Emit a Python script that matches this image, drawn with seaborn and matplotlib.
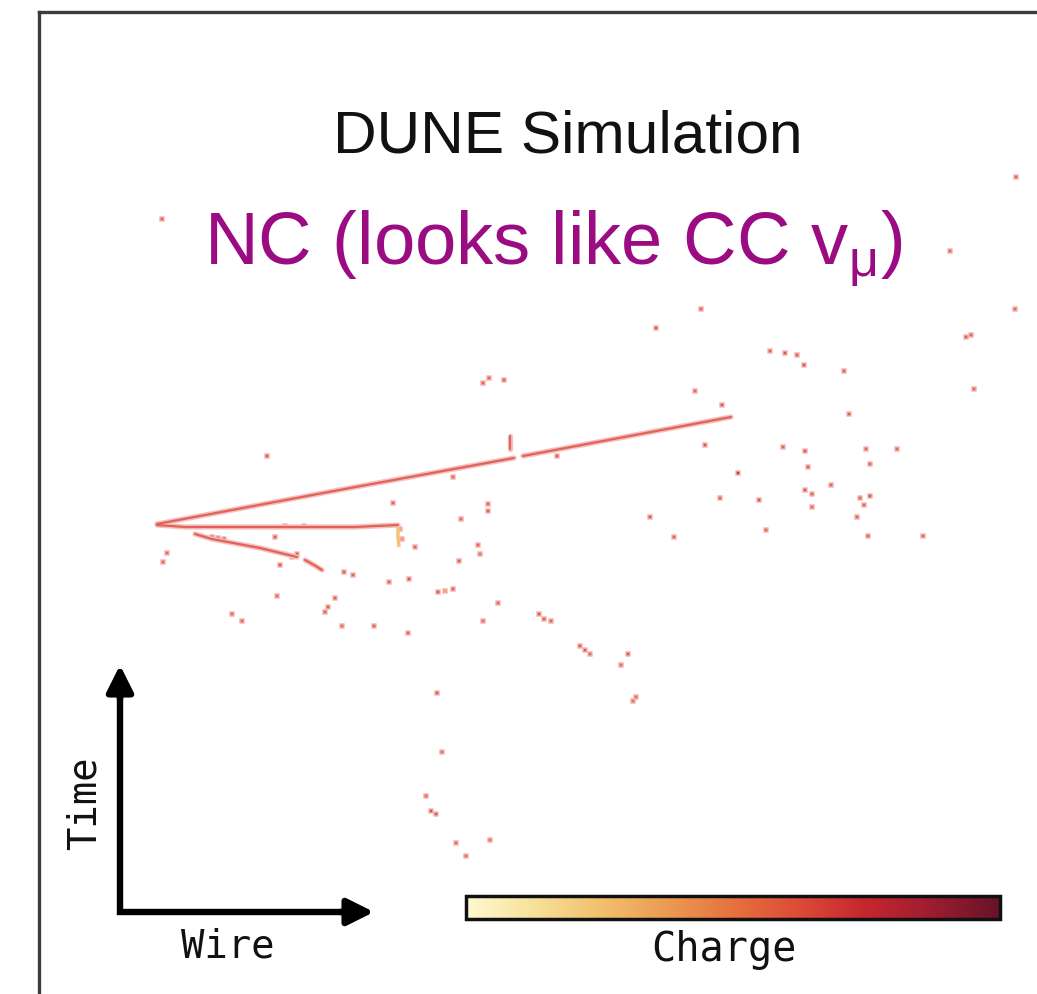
import numpy as np
import pandas as pd
import matplotlib
matplotlib.use("Agg")
import matplotlib.pyplot as plt
import seaborn as sns
from matplotlib.colors import LinearSegmentedColormap, Normalize
from matplotlib.cm import ScalarMappable

sns.set_theme(style="white")
plt.rcParams['font.family'] = ['Liberation Sans', 'DejaVu Sans']

# ---------------- data (wire number, drift time tick, charge) ----------------
# reconstructed tracks (polylines through hits)
track_id   = ["mu_a", "mu_a", "mu_a", "mu_b", "mu_b",
              "flat", "flat", "flat", "flat",
              "shw", "shw", "shw", "shw",
              "tail", "tail", "tail",
              "stub", "stub"]
track_wire = [157, 350, 514, 523, 731,
              157, 185, 355, 398,
              195, 212, 260, 297,
              305, 314, 322,
              510, 510]
track_time = [525, 489, 459, 457, 418,
              526, 528, 528, 526,
              535, 540, 549, 558,
              561, 566, 571,
              437, 450]

low_wire = [398, 398, 399]
low_time = [528, 538, 548]

hit_wire = [162, 656, 701, 770, 785, 797, 804, 844, 966, 971, 1015, 1016, 950, 974,
            483, 489, 504, 695, 722, 849, 705, 783, 805, 866, 897, 557, 267, 453,
            808, 870, 738, 805, 812, 831, 870, 860, 864, 812, 720, 759, 488, 650,
            857, 674, 766, 868, 923, 480,
            162, 285, 304, 212, 218, 224,
            393, 488, 461, 275, 415, 478, 167, 163, 459, 280, 344, 353, 389, 409,
            438, 445, 453, 498, 335, 328, 325, 277, 232, 242, 342, 374, 408, 483,
            400, 402, 292, 297,
            539, 544, 551, 580, 585, 590, 628, 621, 633, 636, 437, 442, 426, 431,
            436, 456, 466, 490]
hit_time = [220, 329, 310, 352, 354, 356, 366, 372, 338, 336, 310, 178, 252, 390,
            384, 379, 381, 392, 406, 415, 446, 448, 452, 450, 450, 457, 457, 478,
            468, 465, 474, 491, 495, 486, 497, 499, 506, 508, 499, 501, 512, 518,
            518, 538, 531, 537, 537, 555,
            525, 527, 527, 538, 539, 540,
            504, 505, 520, 538, 548, 546, 554, 563, 562, 566, 573, 576, 583, 580,
            593, 592, 590, 604, 599, 608, 613, 597, 615, 622, 627, 627, 634, 622,
            530, 540, 558, 555,
            615, 620, 622, 647, 651, 655, 655, 666, 702, 698, 694, 753, 797, 812,
            815, 844, 857, 841]
hit_charge = [0.62, 0.62, 0.6, 0.62, 0.65, 0.62, 0.65, 0.62, 0.62, 0.6, 0.58, 0.58, 0.6, 0.58,
              0.6, 0.58, 0.6, 0.58, 0.65, 0.62, 0.65, 0.62, 0.65, 0.58, 0.58, 0.62, 0.62, 0.58,
              0.6, 0.62, 0.82, 0.65, 0.6, 0.6, 0.65, 0.6, 0.6, 0.58, 0.62, 0.65, 0.62, 0.65,
              0.6, 0.6, 0.6, 0.6, 0.58, 0.55,
              0.85, 0.8, 0.8, 0.78, 0.78, 0.75,
              0.6, 0.6, 0.58, 0.62, 0.6, 0.6, 0.58, 0.58, 0.62, 0.65, 0.62, 0.62, 0.62, 0.65,
              0.65, 0.35, 0.62, 0.58, 0.6, 0.62, 0.6, 0.58, 0.58, 0.58, 0.58, 0.62, 0.6, 0.55,
              0.35, 0.4, 0.45, 0.7,
              0.65, 0.62, 0.6, 0.62, 0.62, 0.58, 0.65, 0.55, 0.55, 0.55, 0.65, 0.58, 0.58, 0.68,
              0.65, 0.58, 0.58, 0.55]

charge_colors = ["#fef9d0", "#f7e19a", "#f1c06c", "#eb9a52", "#e6713f",
                 "#dc4a36", "#c4262e", "#9c1c30", "#661327"]

title = "DUNE Simulation"
subtitle = r"NC (looks like CC v$_{\mathregular{μ}}$)"

# ---------------- figure ----------------
W, H = 1037, 995
fig = plt.figure(figsize=(W / 100, H / 100), dpi=100)
fig.patch.set_facecolor("white")

x0, y0 = 39, 13
ax = fig.add_axes([x0 / W, 0, 1 - x0 / W, 1 - y0 / H])
ax.set_xlim(x0, W)
ax.set_ylim(H, y0)
ax.set_xticks([]); ax.set_yticks([])
for s in ["right", "bottom"]:
    ax.spines[s].set_visible(False)
for s in ["left", "top"]:
    ax.spines[s].set_color("#3c3c3c")
    ax.spines[s].set_linewidth(2.4)
ax.set_facecolor("white")

cmap = LinearSegmentedColormap.from_list("charge", charge_colors)

tracks = pd.DataFrame({"track": track_id, "wire": track_wire, "time": track_time})
sns.lineplot(data=tracks, x="wire", y="time", units="track", estimator=None,
             sort=False, color="#f5c0bc", lw=3.8, ax=ax, legend=False)
sns.lineplot(data=tracks, x="wire", y="time", units="track", estimator=None,
             sort=False, color="#e2625b", lw=1.6, ax=ax, legend=False)
ax.plot(low_wire, low_time, color="#f2c47a", lw=2.5, solid_capstyle="butt")

hits = pd.DataFrame({"wire": hit_wire, "time": hit_time, "charge": hit_charge})
sns.scatterplot(data=hits, x="wire", y="time", hue="charge", palette=cmap,
                hue_norm=(0, 1), marker="s", s=11, edgecolor="#f2b4b1",
                linewidth=1.2, alpha=0.9, legend=False, ax=ax)
ax.set_xlabel(""); ax.set_ylabel("")

# titles
ax.text(568, 152, title, ha="center", va="baseline", fontsize=43.5,
        color="#111111", family="Liberation Sans")
plt.rcParams['mathtext.fontset'] = 'custom'
plt.rcParams['mathtext.rm'] = 'Liberation Sans'
ax.text(553, 265, subtitle, ha="center", va="baseline", fontsize=53.5,
        color="#9b0c82", family="Liberation Sans")

# axis arrows
ax.plot([120, 120, 355], [685, 913, 913], color="black", lw=4.6,
        solid_joinstyle="miter", solid_capstyle="butt")
ax.annotate("", xy=(120, 666), xytext=(120, 700),
            arrowprops=dict(arrowstyle="-|>", lw=4.6, color="black",
                            mutation_scale=40, shrinkA=0, shrinkB=0))
ax.annotate("", xy=(374, 913), xytext=(340, 913),
            arrowprops=dict(arrowstyle="-|>", lw=4.6, color="black",
                            mutation_scale=40, shrinkA=0, shrinkB=0))
ax.text(228, 958, "Wire", ha="center", va="baseline", fontsize=28,
        family="DejaVu Sans Mono", color="#111111")
ax.text(104, 803, "Time", ha="right", va="center", rotation=90, fontsize=28,
        family="DejaVu Sans Mono", color="#111111")

# colour bar
cax = fig.add_axes([466 / W, (H - 920) / H, (1000 - 466) / W, 23 / H])
cb = fig.colorbar(ScalarMappable(norm=Normalize(0, 1), cmap=cmap), cax=cax,
                  orientation="horizontal")
cb.set_ticks([])
cb.outline.set_linewidth(2.5)
cb.outline.set_edgecolor("#111111")
ax.text(724, 961, "Charge", ha="center", va="baseline",
        fontsize=29, family="DejaVu Sans Mono", color="#111111")

fig.savefig("out.png", dpi=100, facecolor="white")
